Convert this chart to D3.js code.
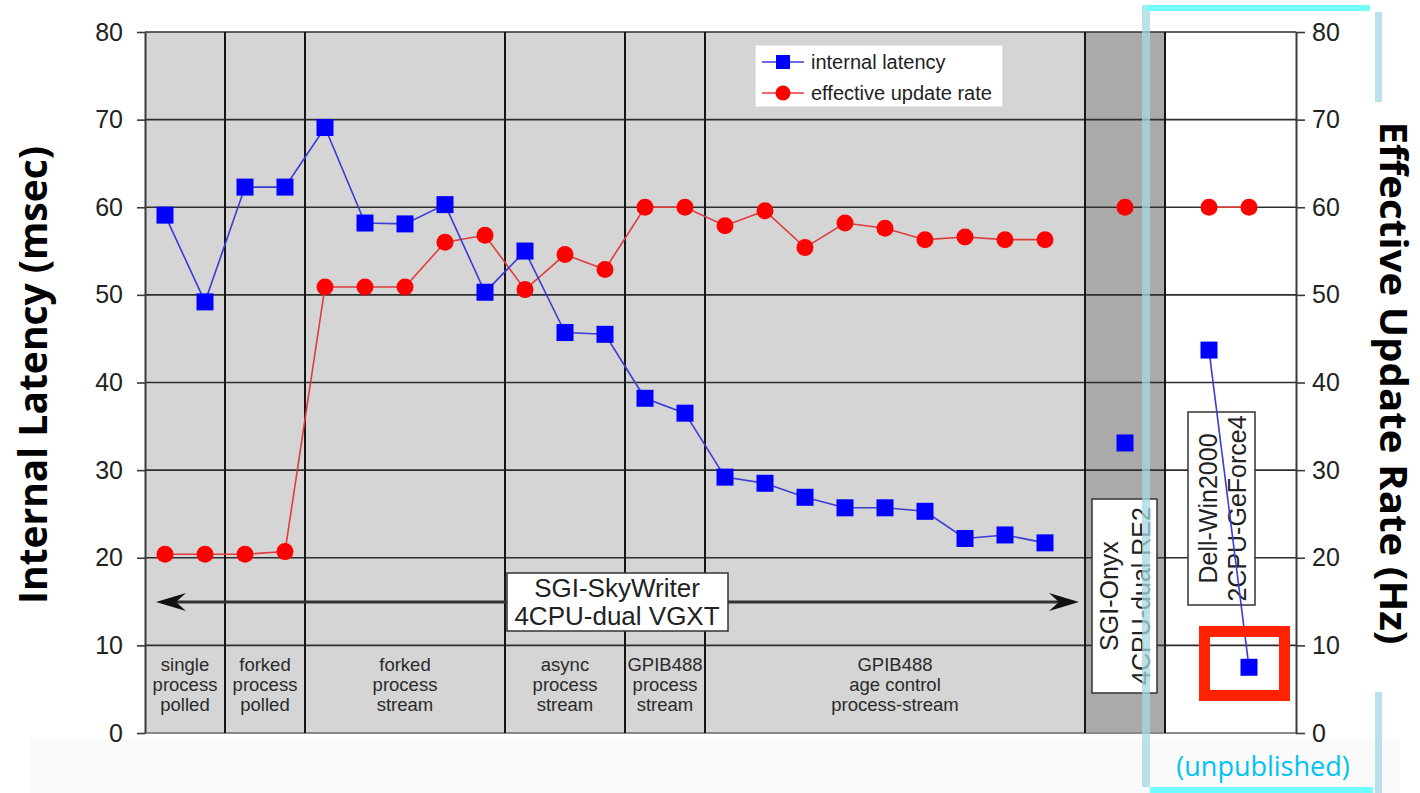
<!DOCTYPE html>
<html>
<head>
<meta charset="utf-8">
<script src="https://cdn.jsdelivr.net/npm/d3@7/dist/d3.min.js"></script>
<style>
  body { margin: 0; background: #fff; }
  svg { display: block; }
  text { font-family: "Liberation Sans", Arial, sans-serif; }
</style>
</head>
<body>
<svg id="chart" width="1420" height="793"></svg>
<script>
// slot index of each measurement along the x axis (one slot per run)
const skyPos = d3.range(23).map(i => i + 0.5);
const onyxPos = [24.5];
const dellPos = [26.6, 27.6];

// internal latency (msec), left axis
const latencySky = [59.1, 49.2, 62.3, 62.3, 69.1, 58.2, 58.1, 60.3, 50.3, 55.0, 45.7, 45.5,
                    38.2, 36.5, 29.2, 28.5, 26.9, 25.7, 25.7, 25.3, 22.2, 22.6, 21.7];
const latencyOnyx = [33.1];
const latencyDell = [43.7, 7.5];

// effective update rate (Hz), right axis
const rateSky = [20.4, 20.4, 20.4, 20.7, 50.9, 50.9, 50.9, 56.0, 56.8, 50.6, 54.6, 52.9,
                 60.0, 60.0, 57.9, 59.6, 55.4, 58.2, 57.6, 56.3, 56.6, 56.3, 56.3];
const rateOnyx = [60.0];
const rateDell = [60.0, 60.0];

const yTicks = [0, 10, 20, 30, 40, 50, 60, 70, 80];
const sectionBounds = [0, 2, 4, 9, 12, 14, 23.5];
const sectionNames = [
  ["single", "process", "polled"],
  ["forked", "process", "polled"],
  ["forked", "process", "stream"],
  ["async", "process", "stream"],
  ["GPIB488", "process", "stream"],
  ["GPIB488", "age control", "process-stream"]
];
const onyxBand = [23.5, 25.5];
const slotMax = 28.775;

//////////////////////////////////////////////////////////////////////

const svg = d3.select("#chart");
const plotLeft = 145, plotRight = 1296, plotTop = 32, plotBottom = 733;

const x = d3.scaleLinear().domain([0, slotMax]).range([plotLeft, plotRight]);
const yL = d3.scaleLinear().domain([0, 80]).range([plotBottom, plotTop]);
const yR = d3.scaleLinear().domain([0, 80]).range([plotBottom, plotTop]);

// faint strip under the chart
svg.append("rect").attr("x", 30).attr("y", 740).attr("width", 1370).attr("height", 53).attr("fill", "#fafafa");

// backgrounds
svg.append("rect").attr("x", x(0)).attr("y", plotTop).attr("width", x(onyxBand[0]) - x(0))
  .attr("height", plotBottom - plotTop).attr("fill", "#d5d5d5");
svg.append("rect").attr("x", x(onyxBand[0])).attr("y", plotTop).attr("width", x(onyxBand[1]) - x(onyxBand[0]))
  .attr("height", plotBottom - plotTop).attr("fill", "#aaaaaa");
svg.append("rect").attr("x", x(onyxBand[1])).attr("y", plotTop).attr("width", plotRight - x(onyxBand[1]))
  .attr("height", plotBottom - plotTop).attr("fill", "#ffffff");

// horizontal grid
svg.append("g").selectAll("line").data(yTicks.slice(1)).join("line")
  .attr("x1", plotLeft).attr("x2", plotRight)
  .attr("y1", d => yL(d)).attr("y2", d => yL(d))
  .attr("stroke", "#2e2e2e").attr("stroke-width", 1.6);
svg.append("line").attr("x1", plotLeft).attr("x2", plotRight).attr("y1", plotBottom).attr("y2", plotBottom)
  .attr("stroke", "#8a8a8a").attr("stroke-width", 2);

// vertical separators
const seps = sectionBounds.slice(1, -1).concat(onyxBand);
svg.append("g").selectAll("line").data(seps).join("line")
  .attr("x1", d => x(d)).attr("x2", d => x(d)).attr("y1", plotTop).attr("y2", plotBottom)
  .attr("stroke", "#151515").attr("stroke-width", 2);

// axes
const axisL = svg.append("g").attr("transform", "translate(" + plotLeft + ",0)")
  .call(d3.axisLeft(yL).tickValues(yTicks).tickSize(8).tickSizeOuter(0).tickPadding(14));
const axisR = svg.append("g").attr("transform", "translate(" + plotRight + ",0)")
  .call(d3.axisRight(yR).tickValues(yTicks).tickSize(9).tickSizeOuter(0).tickPadding(7));
[axisL, axisR].forEach(a => {
  a.select(".domain").attr("stroke", "#3a3a3a").attr("stroke-width", 2);
  a.selectAll(".tick line").attr("stroke", "#3a3a3a").attr("stroke-width", 1.6);
  a.selectAll(".tick text").attr("fill", "#222").style("font-size", "25px")
    .style("font-family", "'Liberation Sans', Arial, sans-serif");
});

// section labels
const secG = svg.append("g");
sectionNames.forEach((lines, i) => {
  const cx = x((sectionBounds[i] + sectionBounds[i + 1]) / 2);
  secG.append("text").attr("x", cx).attr("y", 671).attr("text-anchor", "middle")
    .attr("fill", "#2a2a2a").style("font-size", "18.5px")
    .selectAll("tspan").data(lines).join("tspan")
    .attr("x", cx).attr("dy", (d, j) => j === 0 ? 0 : 20).text(d => d);
});

// double arrow
const arrowY = 602, ax1 = 156, ax2 = 1079;
svg.append("line").attr("x1", ax1 + 10).attr("x2", ax2 - 10).attr("y1", arrowY).attr("y2", arrowY)
  .attr("stroke", "#333").attr("stroke-width", 3);
svg.append("path").attr("d", `M${ax1},${arrowY} L${ax1 + 30},${arrowY - 9} L${ax1 + 20},${arrowY} L${ax1 + 30},${arrowY + 9} Z`)
  .attr("fill", "#111");
svg.append("path").attr("d", `M${ax2},${arrowY} L${ax2 - 30},${arrowY - 9} L${ax2 - 20},${arrowY} L${ax2 - 30},${arrowY + 9} Z`)
  .attr("fill", "#111");

// SkyWriter label box
svg.append("rect").attr("x", 507).attr("y", 573).attr("width", 221).attr("height", 58)
  .attr("fill", "#fff").attr("stroke", "#333").attr("stroke-width", 1.5);
svg.append("text").attr("x", 617).attr("y", 597).attr("text-anchor", "middle").attr("fill", "#222")
  .style("font-size", "26px").text("SGI-SkyWriter");
svg.append("text").attr("x", 617).attr("y", 625).attr("text-anchor", "middle").attr("fill", "#222")
  .style("font-size", "26px").text("4CPU-dual VGXT");

// vertical label boxes
function vertBox(bx, by, bw, bh, lines, base) {
  svg.append("rect").attr("x", bx).attr("y", by).attr("width", bw).attr("height", bh)
    .attr("fill", "#fff").attr("stroke", "#333").attr("stroke-width", 1.5);
  const cy = by + bh / 2;
  lines.forEach((t, i) => {
    svg.append("text").attr("transform", "translate(" + base[i] + "," + cy + ") rotate(-90)")
      .attr("text-anchor", "middle").attr("fill", "#222").style("font-size", "25px").text(t);
  });
}
vertBox(1092, 499, 65, 194, ["SGI-Onyx", "4CPU-dual RE2"], [1118, 1150]);
vertBox(1188, 412, 67, 193, ["Dell-Win2000", "2CPU-GeForce4"], [1217, 1246]);

// series
const lineFn = (yScale) => d3.line().x(d => x(d[0])).y(d => yScale(d[1]));
const latencySegs = [d3.zip(skyPos, latencySky), d3.zip(onyxPos, latencyOnyx), d3.zip(dellPos, latencyDell)];
const rateSegs = [d3.zip(skyPos, rateSky), d3.zip(onyxPos, rateOnyx), d3.zip(dellPos, rateDell)];

svg.append("g").selectAll("path").data(rateSegs).join("path")
  .attr("d", lineFn(yR)).attr("fill", "none").attr("stroke", "#e23a3a").attr("stroke-width", 1.6);
svg.append("g").selectAll("path").data(latencySegs).join("path")
  .attr("d", lineFn(yL)).attr("fill", "none").attr("stroke", "#3b3bd6").attr("stroke-width", 1.6);

svg.append("g").selectAll("circle").data(rateSegs.flat()).join("circle")
  .attr("cx", d => x(d[0])).attr("cy", d => yR(d[1])).attr("r", 8.5).attr("fill", "#ff0000");
svg.append("g").selectAll("rect").data(latencySegs.flat()).join("rect")
  .attr("x", d => x(d[0]) - 8.5).attr("y", d => yL(d[1]) - 8.5)
  .attr("width", 17).attr("height", 17).attr("fill", "#0000ff");

// legend
const lg = svg.append("g");
lg.append("rect").attr("x", 755).attr("y", 45).attr("width", 248).attr("height", 62)
  .attr("fill", "#fff").attr("stroke", "#cfcfcf").attr("stroke-width", 1);
[["internal latency", "#3b3bd6", "sq", 62], ["effective update rate", "#e23a3a", "ci", 93]].forEach(e => {
  lg.append("line").attr("x1", 762).attr("x2", 804).attr("y1", e[3]).attr("y2", e[3])
    .attr("stroke", e[1]).attr("stroke-width", 1.6);
  if (e[2] === "sq") {
    lg.append("rect").attr("x", 776).attr("y", e[3] - 7).attr("width", 14).attr("height", 14).attr("fill", "#0000ff");
  } else {
    lg.append("circle").attr("cx", 783).attr("cy", e[3]).attr("r", 7.5).attr("fill", "#ff0000");
  }
  lg.append("text").attr("x", 811).attr("y", e[3] + 7).attr("fill", "#222")
    .style("font-size", "20px").text(e[0]);
});

// axis titles
svg.append("text").attr("transform", "translate(47,375) rotate(-90)").attr("text-anchor", "middle")
  .attr("textLength", 458).attr("lengthAdjust", "spacingAndGlyphs")
  .style("font-family", "'Open Sans', 'Noto Sans', sans-serif").style("font-weight", "bold")
  .style("font-size", "40px").attr("fill", "#000").text("Internal Latency (msec)");
svg.append("text").attr("transform", "translate(1380,383) rotate(90)").attr("text-anchor", "middle")
  .attr("textLength", 523).attr("lengthAdjust", "spacingAndGlyphs")
  .style("font-family", "'Open Sans', 'Noto Sans', sans-serif").style("font-weight", "bold")
  .style("font-size", "38px").attr("fill", "#000").text("Effective Update Rate (Hz)");

// annotation: highlight square
svg.append("rect").attr("x", 1204.5).attr("y", 631.5).attr("width", 80).attr("height", 64)
  .attr("fill", "none").attr("stroke", "#ff2200").attr("stroke-width", 11);

// annotation: cyan bracket
svg.append("rect").attr("x", 1142).attr("y", 5).attr("width", 8).attr("height", 782)
  .attr("fill", "#a6d8e2").attr("opacity", 0.75);
svg.append("rect").attr("x", 1146).attr("y", 5).attr("width", 224).attr("height", 6).attr("fill", "#70ffff");
svg.append("rect").attr("x", 1375).attr("y", 12).attr("width", 7).attr("height", 90).attr("fill", "#b8e2e8");
svg.append("rect").attr("x", 1375).attr("y", 692).attr("width", 7).attr("height", 101).attr("fill", "#b8e2e8");
svg.append("rect").attr("x", 1150).attr("y", 787).attr("width", 223).attr("height", 6).attr("fill", "#70ffff");
svg.append("text").attr("x", 1263).attr("y", 776).attr("text-anchor", "middle")
  .style("font-family", "'Open Sans', 'Noto Sans', sans-serif").style("font-size", "27px")
  .attr("fill", "#00c3f5").text("(unpublished)");
</script>
</body>
</html>
